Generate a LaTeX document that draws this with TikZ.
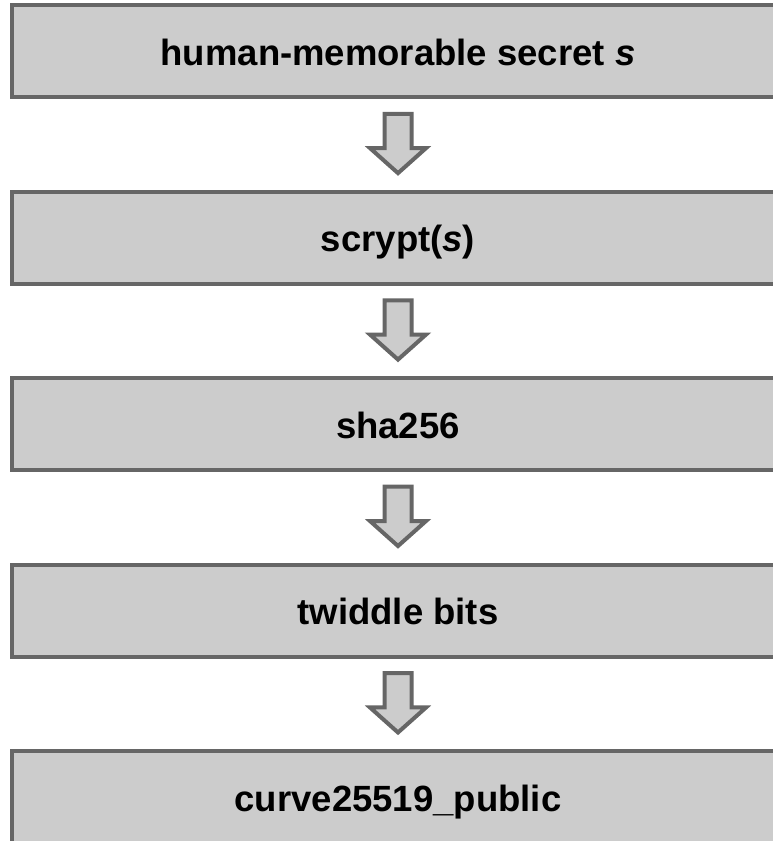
\documentclass[tikz,border=0pt]{standalone}
\usepackage{fontspec}
\setmainfont{Liberation Sans}
\usetikzlibrary{calc}
\definecolor{boxfill}{HTML}{CCCCCC}
\definecolor{boxline}{HTML}{666666}
\tikzset{
  stagebox/.style={draw=boxline, fill=boxfill, line width=4pt, minimum width=772pt, minimum height=92pt, inner sep=0pt},
  stagetext/.style={anchor=base, inner sep=0pt, font=\fontsize{36.5}{40}\selectfont\bfseries},
  downarr/.pic={
    \draw[draw=boxline, fill=boxfill, line width=4pt, line join=miter]
      (-13.5,-29.7) -- (13.5,-29.7) -- (13.5,4.6) -- (28,4.6) -- (0,29.6)
      -- (-28,4.6) -- (-13.5,4.6) -- cycle;
  }
}
\begin{document}
\begin{tikzpicture}[x=1pt, y=-1pt]
\useasboundingbox (0,0) rectangle (772,841);
\node[stagebox] (b1) at (398,51.3) {};
\node[stagebox] (b2) at (398,237.75) {};
\node[stagebox] (b3) at (398,424.2) {};
\node[stagebox] (b4) at (398,610.65) {};
\node[stagebox] (b5) at (398,797.1) {};
\node[stagetext] (t1) at ([yshift=-14pt]b1.center) {human-memorable secret \textit{s}};
\node[stagetext] (t2) at ([yshift=-14pt]b2.center) {scrypt(\textit{s})};
\node[stagetext] (t3) at ([yshift=-14pt]b3.center) {sha256};
\node[stagetext] (t4) at ([yshift=-14pt]b4.center) {twiddle bits};
\node[stagetext] (t5) at ([yshift=-14pt]b5.center) {curve25519\_public};
\coordinate (m1) at ($(b1.south)!0.5!(b2.north)+(0,-1)$);
\coordinate (m2) at ($(b2.south)!0.5!(b3.north)+(0,-1)$);
\coordinate (m3) at ($(b3.south)!0.5!(b4.north)+(0,-1)$);
\coordinate (m4) at ($(b4.south)!0.5!(b5.north)+(0,-1)$);
\pic at (m1) {downarr};
\pic at (m2) {downarr};
\pic at (m3) {downarr};
\pic at (m4) {downarr};
\end{tikzpicture}
\end{document}
